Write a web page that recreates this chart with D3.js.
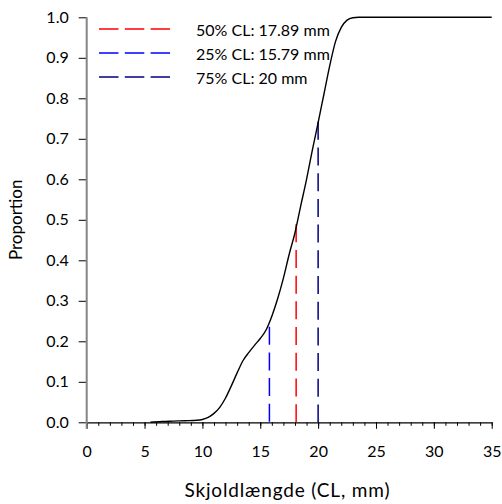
<!DOCTYPE html>
<html>
<head>
<meta charset="utf-8">
<script src="https://cdn.jsdelivr.net/npm/d3@7"></script>
<style>
  html, body { margin: 0; padding: 0; background: #fff; }
  svg text { font-family: Lato, "Open Sans", sans-serif; fill: #000; }
</style>
</head>
<body>
<svg id="chart" width="502" height="504"></svg>
<script>
// ---- data ----
const curveX = [5.5, 6.5, 7.5, 8.5, 9.5, 10, 10.5, 11, 11.5, 12, 12.5, 13, 13.5, 14, 14.5, 15, 15.5, 16, 16.5, 17, 17.5, 18, 18.5, 19, 19.5, 20, 20.5, 21, 21.5, 22, 22.5, 23, 23.5, 24, 35];
const curveY = [0.0, 0.002, 0.003, 0.004, 0.005, 0.007, 0.012, 0.022, 0.037, 0.06, 0.09, 0.122, 0.152, 0.172, 0.19, 0.207, 0.228, 0.262, 0.305, 0.356, 0.415, 0.468, 0.535, 0.6, 0.672, 0.74, 0.81, 0.88, 0.94, 0.975, 0.993, 0.999, 1.0, 1.0, 1.0];

const clLabels = ["50% CL: 17.89 mm", "25% CL: 15.79 mm", "75% CL: 20 mm"];
const clX = [18.1, 15.79, 20];
const clTop = [0.489, 0.236, 0.742];
const clColors = ["#ff0000", "#0000ff", "#000080"];

const xTicks = [0, 5, 10, 15, 20, 25, 30, 35];
const xMinorTicks = d3.range(0, 36, 1);
const yTicks = [0, 0.1, 0.2, 0.3, 0.4, 0.5, 0.6, 0.7, 0.8, 0.9, 1.0];

const xTitle = "Skjoldlængde (CL, mm)";
const yTitle = "Proportion";

// ---- chart ----
const svg = d3.select("#chart");
const x = d3.scaleLinear().domain([0, 35]).range([86.7, 491.7]);
const y = d3.scaleLinear().domain([0, 1]).range([422.3, 17.3]);

// x axis minor ticks
svg.append("g")
  .attr("transform", `translate(0,${y(0)})`)
  .call(d3.axisBottom(x).tickValues(xMinorTicks).tickSize(3.5).tickSizeOuter(0).tickFormat(""))
  .call(g => g.select(".domain").remove())
  .call(g => g.selectAll("line").attr("stroke", "#000").attr("stroke-width", 1));

// x axis major
svg.append("g")
  .attr("transform", `translate(0,${y(0)})`)
  .call(d3.axisBottom(x).tickValues(xTicks).tickSize(6.5).tickSizeOuter(0).tickPadding(16.5).tickFormat(d3.format("d")))
  .call(g => g.select(".domain").attr("stroke", "#000").attr("stroke-width", 1.2))
  .call(g => g.selectAll("line").attr("stroke", "#000").attr("stroke-width", 1))
  .call(g => g.selectAll("text").attr("font-size", 16).attr("font-family", "Lato, sans-serif"));

// y axis
svg.append("g")
  .attr("transform", `translate(${x(0)},0)`)
  .call(d3.axisLeft(y).tickValues(yTicks).tickSize(8).tickSizeOuter(0).tickPadding(10).tickFormat(d3.format(".1f")))
  .call(g => g.select(".domain").remove())
  .call(g => g.selectAll("line").attr("stroke", "#000").attr("stroke-width", 1))
  .call(g => g.selectAll("text").attr("font-size", 16).attr("font-family", "Lato, sans-serif"));

// gray y-axis line
svg.append("line")
  .attr("x1", x(0)).attr("x2", x(0))
  .attr("y1", y(1)).attr("y2", y(0) + 6.5)
  .attr("stroke", "#858585").attr("stroke-width", 2);

// CL dashed lines
svg.append("g").selectAll("line").data(clX).join("line")
  .attr("x1", d => x(d)).attr("x2", d => x(d))
  .attr("y1", (d, i) => y(clTop[i])).attr("y2", y(0))
  .attr("stroke", (d, i) => clColors[i])
  .attr("stroke-width", 1.5)
  .attr("stroke-dasharray", "18,7.7");

// curve
const pts = curveX.map((d, i) => [d, curveY[i]]);
svg.append("path")
  .datum(pts)
  .attr("fill", "none")
  .attr("stroke", "#000")
  .attr("stroke-width", 1.4)
  .attr("d", d3.line().x(d => x(d[0])).y(d => y(d[1])).curve(d3.curveMonotoneX));

// legend
const leg = svg.append("g");
clLabels.forEach((lab, i) => {
  const ly = 29 + i * 24;
  leg.append("line")
    .attr("x1", 99).attr("x2", 170).attr("y1", ly).attr("y2", ly)
    .attr("stroke", clColors[i]).attr("stroke-width", 1.5)
    .attr("stroke-dasharray", "19.5,6.3");
  leg.append("text")
    .attr("x", 196).attr("y", ly + 6.5)
    .attr("font-size", 16)
    .text(lab);
});

// titles
svg.append("text")
  .attr("x", 287).attr("y", 497)
  .attr("text-anchor", "middle")
  .attr("font-size", 19)
  .attr("textLength", 205)
  .attr("lengthAdjust", "spacing")
  .text(xTitle);

svg.append("text")
  .attr("transform", `translate(21.5,${(y(0) + y(1)) / 2}) rotate(-90)`)
  .attr("text-anchor", "middle")
  .attr("font-size", 17)
  .text(yTitle);
</script>
</body>
</html>
